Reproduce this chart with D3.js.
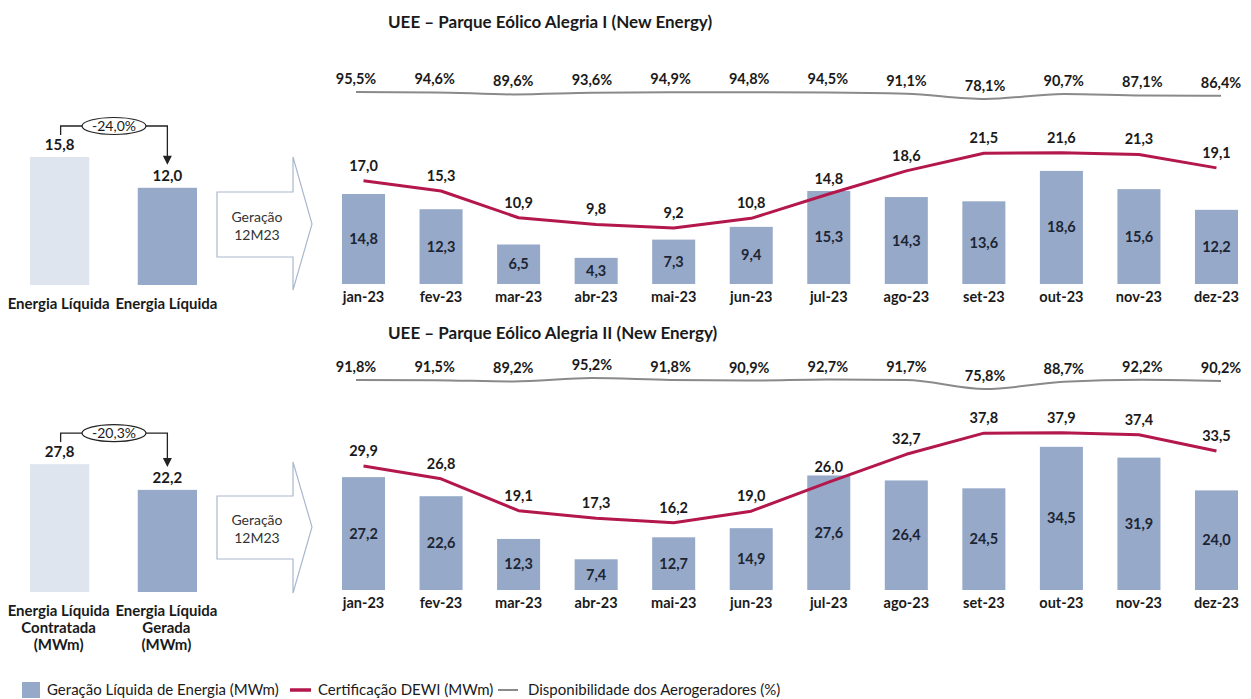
<!DOCTYPE html>
<html><head><meta charset="utf-8">
<script src="https://cdn.jsdelivr.net/npm/d3@7"></script>
<style>
html,body{margin:0;padding:0;background:#fff;}
svg{display:block;font-family:Lato,"Open Sans",sans-serif;}
</style></head>
<body><svg id="c" width="1251" height="699"></svg>
<script>
const months = ["jan-23","fev-23","mar-23","abr-23","mai-23","jun-23","jul-23","ago-23","set-23","out-23","nov-23","dez-23"];
const gen1   = [14.8,12.3,6.5,4.3,7.3,9.4,15.3,14.3,13.6,18.6,15.6,12.2];
const dewi1  = [17.0,15.3,10.9,9.8,9.2,10.8,14.8,18.6,21.5,21.6,21.3,19.1];
const avail1 = [95.5,94.6,89.6,93.6,94.9,94.8,94.5,91.1,78.1,90.7,87.1,86.4];
const gen2   = [27.2,22.6,12.3,7.4,12.7,14.9,27.6,26.4,24.5,34.5,31.9,24.0];
const dewi2  = [29.9,26.8,19.1,17.3,16.2,19.0,26.0,32.7,37.8,37.9,37.4,33.5];
const avail2 = [91.8,91.5,89.2,95.2,91.8,90.9,92.7,91.7,75.8,88.7,92.2,90.2];
const summaryCats = ["Contratada","Gerada"];
const summary1 = [15.8,12.0];
const summary2 = [27.8,22.2];
const change1 = "-24,0%";
const change2 = "-20,3%";
const title1 = "UEE – Parque Eólico Alegria I (New Energy)";
const title2 = "UEE – Parque Eólico Alegria II (New Energy)";
const summaryLabels1 = [["Energia Líquida"],["Energia Líquida"]];
const summaryLabels2 = [["Energia Líquida","Contratada","(MWm)"],["Energia Líquida","Gerada","(MWm)"]];
const arrowText = ["Geração","12M23"];
const legendItems = ["Geração Líquida de Energia (MWm)","Certificação DEWI (MWm)","Disponibilidade dos Aerogeradores (%)"];

const BAR="#97a9c9", LIGHT="#dfe5ef", RED="#b3174c", GREY="#8a8a8a", TXT="#1a1a1a", ARROW="#a9b8ce";
const fmt = v => v.toFixed(1).replace(".", ",");
const svg = d3.select("#c");

const x = d3.scaleBand().domain(months).range([342,1238]).paddingInner(0.445).paddingOuter(0);
const xa = d3.scalePoint().domain(months).range([356,1221]);

function panel(cfg){
  const g = svg.append("g");
  const y = d3.scaleLinear().domain([0,cfg.max]).range([cfg.base, cfg.top]);
  const ya = d3.scaleLinear().domain([70,100]).range(cfg.aRange);
  g.append("text").attr("x",388).attr("y",cfg.titleY).attr("font-size",17).attr("font-weight","bold")
    .attr("fill",TXT).text(cfg.title);
  g.append("path").datum(cfg.avail)
    .attr("d", d3.line().x((d,i)=>xa(months[i])).y(d=>ya(d)).curve(d3.curveMonotoneX))
    .attr("fill","none").attr("stroke",GREY).attr("stroke-width",2);
  g.selectAll(".pl").data(cfg.avail).join("text")
    .attr("x",(d,i)=>xa(months[i])).attr("y",d=>ya(d)-8)
    .attr("text-anchor","middle").attr("font-size",14.5).attr("font-weight","bold").attr("fill",TXT)
    .text(d=>fmt(d)+"%");
  g.selectAll(".bar").data(cfg.gen).join("rect")
    .attr("x",(d,i)=>x(months[i])).attr("width",x.bandwidth())
    .attr("y",d=>y(d)).attr("height",d=>cfg.base-y(d)).attr("fill",BAR);
  g.selectAll(".bl").data(cfg.gen).join("text")
    .attr("x",(d,i)=>x(months[i])+x.bandwidth()/2).attr("y",d=>(y(d)+cfg.base)/2+5)
    .attr("text-anchor","middle").attr("font-size",14.5).attr("font-weight","bold").attr("fill","#1c2533")
    .text(d=>fmt(d));
  g.append("path").datum(cfg.dewi)
    .attr("d", d3.line().x((d,i)=>x(months[i])+x.bandwidth()/2).y(d=>y(d)))
    .attr("fill","none").attr("stroke",RED).attr("stroke-width",3).attr("stroke-linejoin","round");
  g.selectAll(".rl").data(cfg.dewi).join("text")
    .attr("x",(d,i)=>x(months[i])+x.bandwidth()/2).attr("y",d=>y(d)-10)
    .attr("text-anchor","middle").attr("font-size",14.5).attr("font-weight","bold").attr("fill",TXT)
    .text(d=>fmt(d));
  const ax = d3.axisBottom(x).tickSize(0).tickPadding(0);
  const axg = g.append("g").attr("transform",`translate(0,${cfg.base})`).call(ax);
  axg.select(".domain").remove();
  axg.selectAll("text").attr("dy",null).attr("y",18).attr("font-size",14.5).attr("font-weight","bold")
    .attr("fill",TXT).attr("font-family","Lato, sans-serif");

  const sx = d3.scaleBand().domain(summaryCats).range([30,197]).paddingInner(0.45).paddingOuter(0);
  const sy = d3.scaleLinear().domain([0,cfg.sMax]).range([cfg.sBase, cfg.sTop]);
  g.selectAll(".sb").data(cfg.summary).join("rect")
    .attr("x",(d,i)=>sx(summaryCats[i])).attr("width",sx.bandwidth())
    .attr("y",d=>sy(d)).attr("height",d=>cfg.sBase-sy(d))
    .attr("fill",(d,i)=>i===0?LIGHT:BAR);
  g.selectAll(".sl").data(cfg.summary).join("text")
    .attr("x",(d,i)=>sx(summaryCats[i])+sx.bandwidth()/2).attr("y",d=>sy(d)-7)
    .attr("text-anchor","middle").attr("font-size",15).attr("font-weight","bold").attr("fill",TXT)
    .text(d=>fmt(d));
  cfg.sLabels.forEach((lines,i)=>{
    const cx = sx(summaryCats[i])+sx.bandwidth()/2+(i===0?-1:-1);
    const t = g.append("text").attr("x",cx).attr("y",cfg.sBase+24)
      .attr("text-anchor","middle").attr("font-size",15).attr("font-weight","bold").attr("fill",TXT);
    lines.forEach((l,j)=>t.append("tspan").attr("x",cx).attr("dy",j?17:0).text(l));
  });
  const x0 = sx(summaryCats[0])+sx.bandwidth()/2+1, x1 = sx(summaryCats[1])+sx.bandwidth()/2;
  const by = sy(cfg.summary[0]) - 31;
  const tipY = sy(cfg.summary[1]) - 24;
  g.append("path").attr("d",`M${x0},${by+9}V${by}H${x1}V${tipY-7}`).attr("fill","none").attr("stroke","#222").attr("stroke-width",1.3);
  g.append("path").attr("d",`M${x1-4.5},${tipY-8}L${x1+4.5},${tipY-8}L${x1},${tipY+1}Z`).attr("fill","#222");
  const ex = (x0+x1)/2;
  g.append("ellipse").attr("cx",ex).attr("cy",by).attr("rx",32).attr("ry",8.5).attr("fill","#fff").attr("stroke","#222").attr("stroke-width",1.2);
  g.append("text").attr("x",ex).attr("y",by+5).attr("text-anchor","middle").attr("font-size",14).attr("fill",TXT).text(cfg.change);
  const a = cfg.arrow;
  g.append("path").attr("d",`M217,${a.r0}H293V${a.h0}L312,${a.tip}L293,${a.h1}V${a.r1}H217Z`)
    .attr("fill","#fff").attr("stroke",ARROW).attr("stroke-width",1.2);
  g.append("text").attr("x",257).attr("y",a.tip-2).attr("text-anchor","middle").attr("font-size",14).attr("fill","#333").text(arrowText[0]);
  g.append("text").attr("x",257).attr("y",a.tip+16).attr("text-anchor","middle").attr("font-size",14).attr("fill","#333").text(arrowText[1]);
}

panel({title:title1,titleY:28,gen:gen1,dewi:dewi1,avail:avail1,max:25,base:284,top:132,aRange:[102.3,90.2],
  summary:summary1,sMax:20,sBase:285,sTop:123,sLabels:summaryLabels1,change:change1,
  arrow:{r0:192,r1:257,h0:157,h1:290,tip:224}});
panel({title:title2,titleY:339,gen:gen2,dewi:dewi2,avail:avail2,max:40,base:590,top:424,aRange:[392.3,375.4],
  summary:summary2,sMax:35,sBase:592,sTop:431,sLabels:summaryLabels2,change:change2,
  arrow:{r0:496,r1:559,h0:462,h1:593,tip:527}});

const lg = svg.append("g").attr("font-size",15).attr("fill",TXT);
lg.append("rect").attr("x",22).attr("y",682).attr("width",18).attr("height",16).attr("fill",BAR);
lg.append("text").attr("x",47).attr("y",695).text(legendItems[0]);
lg.append("line").attr("x1",290).attr("x2",311).attr("y1",690).attr("y2",690).attr("stroke",RED).attr("stroke-width",3.5);
lg.append("text").attr("x",318).attr("y",695).text(legendItems[1]);
lg.append("line").attr("x1",498).attr("x2",518).attr("y1",690).attr("y2",690).attr("stroke",GREY).attr("stroke-width",2);
lg.append("text").attr("x",528).attr("y",695).text(legendItems[2]);
</script></body></html>
